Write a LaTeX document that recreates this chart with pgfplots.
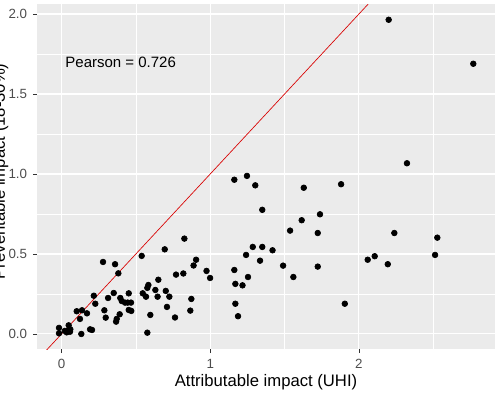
\documentclass[border=0pt]{standalone}
\usepackage{fontspec}
\setmainfont{Liberation Sans}
\usepackage{pgfplots}
\usepackage{pgfplotstable}
\pgfplotsset{compat=1.18}
\definecolor{panelbg}{HTML}{EBEBEB}
\definecolor{gray30}{HTML}{4D4D4D}
\definecolor{gray20}{HTML}{333333}

\pgfplotstableread{
x y
-0.017 0.038
-0.017 0.004
0.022 0.019
0.046 0.021
0.057 0.014
0.059 0.029
0.048 0.054
0.035 0.010
0.102 0.142
0.124 0.094
0.138 0.148
0.133 0.000
0.171 0.129
0.192 0.029
0.205 0.025
0.217 0.239
0.227 0.189
0.279 0.450
0.288 0.148
0.297 0.102
0.313 0.225
0.351 0.256
0.360 0.436
0.382 0.379
0.371 0.094
0.367 0.077
0.391 0.123
0.395 0.225
0.405 0.206
0.427 0.196
0.445 0.196
0.467 0.196
0.452 0.254
0.452 0.150
0.469 0.144
0.539 0.488
0.546 0.254
0.568 0.233
0.577 0.288
0.584 0.306
0.577 0.008
0.597 0.119
0.631 0.275
0.651 0.339
0.646 0.233
0.694 0.529
0.701 0.269
0.709 0.169
0.725 0.233
0.763 0.103
0.770 0.371
0.819 0.378
0.826 0.596
0.866 0.146
0.873 0.219
0.888 0.428
0.905 0.464
0.975 0.394
0.999 0.350
1.162 0.400
1.169 0.313
1.169 0.189
1.187 0.111
1.217 0.304
1.241 0.494
1.254 0.356
1.286 0.544
1.335 0.458
1.350 0.544
1.419 0.523
1.162 0.964
1.247 0.988
1.303 0.929
1.350 0.776
1.490 0.427
1.537 0.646
1.559 0.356
1.615 0.711
1.629 0.914
1.723 0.631
1.723 0.421
1.738 0.748
1.880 0.936
1.905 0.189
2.059 0.464
2.106 0.486
2.194 0.436
2.238 0.631
2.323 1.067
2.512 0.494
2.527 0.602
2.200 1.964
2.769 1.689
}\pts

\begin{document}
\begin{tikzpicture}
\path[use as bounding box] (0,0) rectangle (300.6pt,236.4pt);
\clip (0,0) rectangle (300.6pt,236.4pt);
\begin{axis}[
  at={(22.2pt,27pt)}, anchor=south west,
  width=274.8pt, height=207pt, scale only axis,
  xmin=-0.165, xmax=2.915, ymin=-0.094, ymax=2.0625,
  axis background/.style={fill=panelbg},
  axis line style={draw=none},
  xtick={0,1,2}, ytick={0,0.5,1,1.5,2},
  minor xtick={0.5,1.5,2.5}, minor ytick={0.25,0.75,1.25,1.75},
  grid=both,
  major grid style={white, line width=0.64pt},
  minor grid style={white, line width=0.32pt},
  tick pos=left, tick align=outside,
  major tick length=2.4pt, minor tick length=0pt,
  tick style={gray20, line width=0.5pt},
  /pgf/number format/assume math mode=true,
  xticklabel style={font=\fontsize{8}{9}\selectfont, text=gray30},
  yticklabel style={font=\fontsize{8}{9}\selectfont, text=gray30},
  xticklabels={0,1,2},
  yticklabels={0.0,0.5,1.0,1.5,2.0},
  xlabel={Attributable impact (UHI)},
  ylabel={Preventable impact (18-30\%)},
  xlabel style={font=\fontsize{10}{12}\selectfont, at={(axis description cs:0.5,-0.0)}, anchor=base, yshift=-22.5pt},
  ylabel style={font=\fontsize{10}{12}\selectfont, at={(axis description cs:-0.0700,0.515)}, anchor=base, rotate=0},
  clip=true,
]
\addplot[red!85!black, line width=0.4pt] coordinates {(-0.3,-0.3) (2.3,2.3)};
\addplot[only marks, mark=*, mark size=1.7pt, black] table[x=x,y=y] {\pts};
\node[anchor=west, font=\fontsize{9}{11}\selectfont, inner sep=0pt] at (axis cs:0.024,1.70) {Pearson = 0.726};
\end{axis}
\end{tikzpicture}
\end{document}
